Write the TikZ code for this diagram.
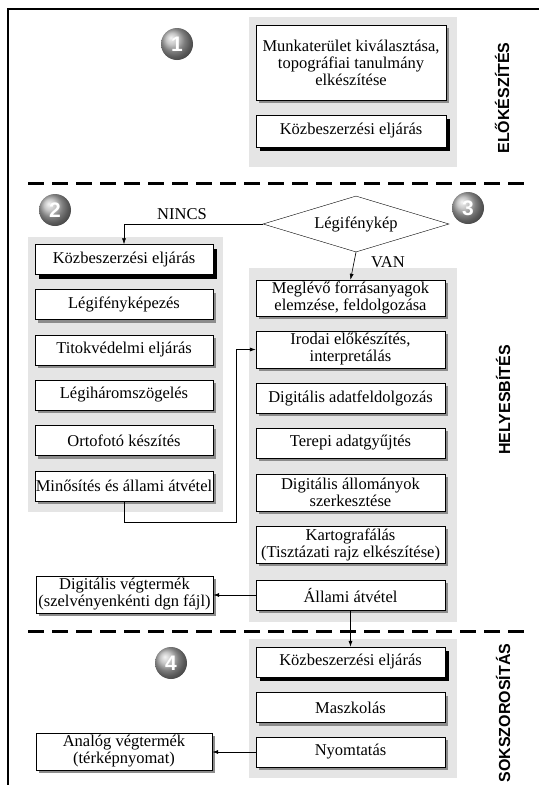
\documentclass[tikz,border=0pt]{standalone}
\usepackage{fontspec}
\setmainfont{Liberation Serif}
\newfontfamily\sidefont{Liberation Sans}
\usetikzlibrary{shapes.geometric,shadows,arrows.meta}
\definecolor{panelgray}{gray}{0.9}
\definecolor{shadegray}{gray}{0.55}

\begin{document}
\begin{tikzpicture}[x=1pt,y=-1pt,
            font=\fontsize{16.5}{17}\selectfont,
            task/.style = {draw, fill=white, align=center, inner sep=0pt,
            minimum height=30pt},
            gbox/.style = {task, general shadow={fill=shadegray,
            shadow xshift=3pt, shadow yshift=-3pt}},
            kbox/.style = {task, general shadow={fill=black,
            shadow xshift=4pt, shadow yshift=-4pt}},
            numball/.style = {circle, minimum size=32pt, inner sep=0pt,
            ball color=gray!60, text=white,
            font=\sidefont\bfseries\fontsize{21}{21}\selectfont},
            side/.style = {rotate=90,
            font=\sidefont\bfseries\fontsize{16}{16}\selectfont},
            arr/.style = {semithick, -{Latex[length=6pt,width=4pt]}},
            sep/.style = {line width=3pt, dash pattern=on 16pt off 8pt}]
        \useasboundingbox (0,0) rectangle (539,785);

        % Frame
        \draw[line width=1.5pt] (8,785) -- (8,9) -- (539,9);

        % Gray panels
        \fill[panelgray] (249,17) rectangle (457,167);
        \fill[panelgray] (28,237) rectangle (223,512);
        \fill[panelgray] (249,268) rectangle (457,622);
        \fill[panelgray] (249,639) rectangle (457,778);

        % Phase separators
        \draw[sep] (28,183) -- (530,183);
        \draw[sep] (28,631) -- (530,631);

        % Phase 1
        \node[numball] (c1) at (177,44) {1};
        \node[gbox, minimum width=190pt, minimum height=75pt] (munka) at (351,62.5)
            {Munkaterület kiválasztása,\\topográfiai tanulmány\\elkészítése};
        \node[kbox, minimum width=190pt, minimum height=32pt] (kozb1) at (351,131)
            {Közbeszerzési eljárás};
        \node[side] (elo) at (502,98) {ELŐKÉSZÍTÉS};

        % Decision
        \node[diamond, draw, fill=white, aspect=3.3, inner sep=0pt,
            minimum width=186pt, minimum height=56pt] (legi) at (356,224) {Légifénykép};
        \node[numball] (c2) at (55,210) {2};
        \node[numball] (c3) at (468,208) {3};

        % Phase 2 (no photo)
        \node[kbox, minimum width=178pt] (kozb2) at (124,259.5) {Közbeszerzési eljárás};
        \node[gbox, minimum width=178pt] (fenykep) at (124,304.5) {Légifényképezés};
        \node[gbox, minimum width=178pt] (titok) at (124,350) {Titokvédelmi eljárás};
        \node[gbox, minimum width=178pt] (harom) at (124,395) {Légiháromszögelés};
        \node[gbox, minimum width=178pt] (orto) at (124,440.5) {Ortofotó készítés};
        \node[gbox, minimum width=178pt] (minos) at (124,486) {Minősítés és állami átvétel};

        % Phase 2 (photo exists)
        \node[gbox, minimum width=189pt, minimum height=36pt] (meglevo) at (350.5,298)
            {Meglévő forrásanyagok\\elemzése, feldolgozása};
        \node[gbox, minimum width=189pt, minimum height=37pt] (iroda) at (350.5,349.5)
            {Irodai előkészítés,\\interpretálás};
        \node[gbox, minimum width=189pt] (digadat) at (350.5,398) {Digitális adatfeldolgozás};
        \node[gbox, minimum width=189pt] (terep) at (350.5,443) {Terepi adatgyűjtés};
        \node[gbox, minimum width=189pt, minimum height=37pt] (szerk) at (350.5,492.5)
            {Digitális állományok\\szerkesztése};
        \node[gbox, minimum width=189pt, minimum height=37pt] (karto) at (350.5,544.5)
            {Kartografálás\\(Tisztázati rajz elkészítése)};
        \node[gbox, minimum width=189pt] (atvet) at (350.5,595) {Állami átvétel};
        \node[gbox, minimum width=177pt, minimum height=37pt] (digveg) at (124.5,594.5)
            {Digitális végtermék\\(szelvényenkénti dgn fájl)};
        \node[side] (helyes) at (503,400) {HELYESBÍTÉS};

        % Phase 3
        \node[numball] (c4) at (171,663) {4};
        \node[kbox, minimum width=189pt] (kozb4) at (350.5,662) {Közbeszerzési eljárás};
        \node[gbox, minimum width=189pt] (maszk) at (350.5,707.5) {Maszkolás};
        \node[gbox, minimum width=189pt] (nyomt) at (350.5,752) {Nyomtatás};
        \node[gbox, minimum width=176pt, minimum height=37pt] (analog) at (124,751.5)
            {Analóg végtermék\\(térképnyomat)};
        \node[side] (soksz) at (503,713) {SOKSZOROSÍTÁS};

        % Connectors
        \coordinate (turn) at (236,522);
        \draw[arr] (legi.west) -| (kozb2.north);
        \draw[arr] (legi.south) -- (meglevo.north);
        \draw[arr] (minos.south) |- (turn) |- (iroda.west);
        \draw[arr] (atvet.west) -- (atvet.west -| digveg.east);
        \draw[arr] (atvet.south) -- (kozb4.north);
        \draw[arr] (nyomt.west) -- (nyomt.west -| analog.east);

        % Branch labels
        \node (nincs) at (182,214) {NINCS};
        \node (van) at (388,262) {VAN};
    \end{tikzpicture}
\end{document}
